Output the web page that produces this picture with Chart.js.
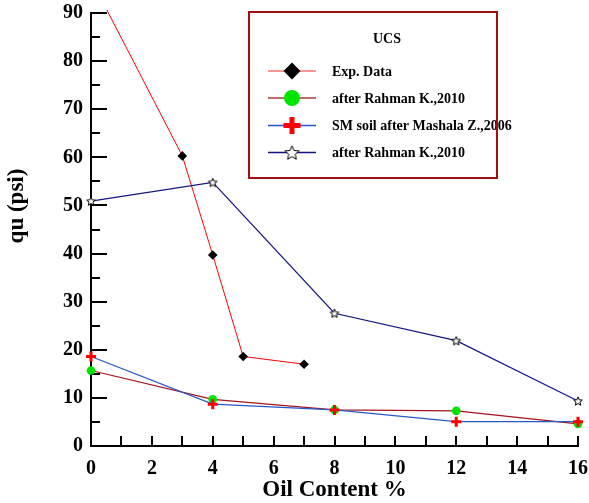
<!DOCTYPE html>
<html>
<head>
<meta charset="utf-8">
<script src="https://cdn.jsdelivr.net/npm/chart.js@4/dist/chart.umd.min.js"></script>
<style>
  html, body { margin: 0; padding: 0; background: #fff; }
  #wrap { width: 589px; height: 503px; position: relative; }
</style>
</head>
<body>
<div id="wrap"><canvas id="c" width="589" height="503"></canvas></div>
<script>
// Oil content (%) on the x axis, unconfined compressive strength qu (psi) on the y axis
const expX = [0, 3, 4, 5, 7];
const expY = [97, 60.3, 39.7, 18.6, 17.0];

const rahmanX = [0, 4, 8, 12, 16];
const rahmanY = [15.7, 9.7, 7.5, 7.3, 4.6];

const mashalaX = [0, 4, 8, 12, 16];
const mashalaY = [18.6, 8.7, 7.5, 5.05, 5.05];

const rahman2X = [0, 4, 8, 12, 16];
const rahman2Y = [50.9, 54.8, 27.6, 21.9, 9.35];

const xTickValues = [0, 2, 4, 6, 8, 10, 12, 14, 16];
const yTickValues = [0, 10, 20, 30, 40, 50, 60, 70, 80, 90];

const seriesNames = ['Exp. Data', 'after Rahman K.,2010', 'SM soil after Mashala Z.,2006', 'after Rahman K.,2010'];
const legendTitle = 'UCS';
const xTitle = 'Oil Content %';
const yTitle = 'qu (psi)';

const SERIF = '"Liberation Serif", "Times New Roman", serif';

function pairs(xs, ys) { return xs.map((x, i) => ({ x: x, y: ys[i] })); }

// five-pointed open star used as a marker
function starCanvas(outer) {
  const s = Math.ceil(outer * 2 + 4);
  const cv = document.createElement('canvas');
  cv.width = s; cv.height = s;
  const g = cv.getContext('2d');
  const cx = s / 2, cy = s / 2 + outer * 0.1;
  const inner = outer * 0.45;
  g.beginPath();
  for (let i = 0; i < 10; i++) {
    const r = i % 2 === 0 ? outer : inner;
    const a = -Math.PI / 2 + i * Math.PI / 5;
    const px = cx + r * Math.cos(a), py = cy + r * Math.sin(a);
    if (i === 0) g.moveTo(px, py); else g.lineTo(px, py);
  }
  g.closePath();
  g.fillStyle = '#fff';
  g.fill();
  g.lineWidth = 1;
  g.strokeStyle = '#000';
  g.stroke();
  return cv;
}
const starSmall = starCanvas(4.6);
const starLarge = starCanvas(7.5);

const datasets = [
  {
    label: seriesNames[0], data: pairs(expX, expY),
    borderColor: '#ff0000', borderWidth: 1,
    pointStyle: 'rectRot', pointRadius: 4.8,
    pointBackgroundColor: '#000', pointBorderColor: '#000', pointBorderWidth: 0,
    order: 3, clip: { left: 10, top: 3, right: 10, bottom: 10 },
    legendRadius: 8.5, legendStyle: 'rectRot', legendLine: '#ff7373'
  },
  {
    label: seriesNames[1], data: pairs(rahmanX, rahmanY),
    borderColor: '#a3141c', borderWidth: 1.2,
    pointStyle: 'circle', pointRadius: 4.3,
    pointBackgroundColor: '#00e400', pointBorderColor: '#00e400', pointBorderWidth: 0,
    order: 2, clip: false,
    legendRadius: 8, legendStyle: 'circle', legendLine: '#a83a3a'
  },
  {
    label: seriesNames[2], data: pairs(mashalaX, mashalaY),
    borderColor: '#2458c8', borderWidth: 1.2,
    pointStyle: 'cross', pointRadius: 5, pointBorderWidth: 3,
    pointBackgroundColor: '#ff0000', pointBorderColor: '#ff0000',
    order: 1, clip: false,
    legendRadius: 8.5, legendStyle: 'cross', legendBorder: 5, legendLine: '#2458c8'
  },
  {
    label: seriesNames[3], data: pairs(rahman2X, rahman2Y),
    borderColor: '#14147e', borderWidth: 1.2,
    pointStyle: starSmall, pointRadius: 5,
    pointBackgroundColor: '#fff', pointBorderColor: '#000',
    order: 0, clip: false,
    legendStyle: starLarge, legendRadius: 8, legendLine: '#14147e'
  }
];

// inward tick marks on both axes
const innerTicks = {
  id: 'innerTicks',
  beforeDatasetsDraw(chart) {
    const ctx = chart.ctx, xs = chart.scales.x, ys = chart.scales.y;
    const a = chart.chartArea;
    ctx.save();
    ctx.strokeStyle = '#000';
    ctx.lineWidth = 2;
    ctx.beginPath();
    for (let v = xs.min + 1; v <= xs.max; v += 1) {
      const px = Math.round(xs.getPixelForValue(v));
      ctx.moveTo(px, a.bottom); ctx.lineTo(px, a.bottom - 10);
    }
    for (let v = ys.min + 5; v <= ys.max; v += 5) {
      const py = Math.round(ys.getPixelForValue(v));
      const len = v % 10 === 0 ? 16 : 9;
      ctx.moveTo(a.left, py); ctx.lineTo(a.left + len, py);
    }
    ctx.stroke();
    ctx.restore();
  }
};

// axis titles
const axisTitles = {
  id: 'axisTitles',
  afterDraw(chart) {
    const ctx = chart.ctx, a = chart.chartArea;
    ctx.save();
    ctx.fillStyle = '#000';
    ctx.font = 'bold 23px ' + SERIF;
    ctx.textAlign = 'center';
    ctx.textBaseline = 'middle';
    ctx.fillText(xTitle, (a.left + a.right) / 2, 490);
    ctx.translate(17, 206);
    ctx.rotate(-Math.PI / 2);
    ctx.fillText(yTitle, 0, 0);
    ctx.restore();
  }
};

// boxed legend inside the plot
const boxLegend = {
  id: 'boxLegend',
  afterDraw(chart) {
    const ctx = chart.ctx;
    const bx = 249, by = 12, bw = 248, bh = 166;
    ctx.save();
    ctx.fillStyle = '#fff';
    ctx.fillRect(bx, by, bw, bh);
    ctx.fillStyle = '#000';
    ctx.font = 'bold 14px ' + SERIF;
    ctx.textAlign = 'center';
    ctx.textBaseline = 'middle';
    ctx.fillText(legendTitle, 387, 39);
    const rows = [71, 98, 125.5, 152.5];
    datasets.forEach((ds, i) => {
      const y = rows[i];
      ctx.strokeStyle = ds.legendLine;
      ctx.lineWidth = 1.5;
      ctx.beginPath();
      ctx.moveTo(268, y); ctx.lineTo(316, y);
      ctx.stroke();
      ctx.fillStyle = ds.pointBackgroundColor;
      ctx.strokeStyle = ds.pointBorderColor;
      ctx.lineWidth = ds.legendBorder || 0.01;
      Chart.helpers.drawPoint(ctx, {
        pointStyle: ds.legendStyle, radius: ds.legendRadius, rotation: 0,
        borderWidth: ds.legendBorder || 0
      }, 292, y);
      ctx.fillStyle = '#000';
      ctx.textAlign = 'left';
      ctx.font = 'bold 14px ' + SERIF;
      ctx.fillText(ds.label, 332, y + 1);
    });
    ctx.strokeStyle = '#a01010';
    ctx.lineWidth = 2;
    ctx.strokeRect(bx, by, bw, bh);
    ctx.restore();
  }
};

new Chart(document.getElementById('c'), {
  type: 'line',
  data: { datasets: datasets },
  plugins: [innerTicks, axisTitles, boxLegend],
  options: {
    responsive: false,
    animation: false,
    devicePixelRatio: 1,
    layout: { padding: { top: 13, right: 11, left: 0, bottom: 0 } },
    plugins: { legend: { display: false }, tooltip: { enabled: false } },
    elements: { line: { tension: 0, fill: false } },
    scales: {
      x: {
        type: 'linear', min: 0, max: 16,
        afterBuildTicks(scale) { scale.ticks = xTickValues.map(v => ({ value: v })); },
        afterFit(scale) { scale.height = 57; scale.paddingLeft = 0; scale.paddingRight = 0; },
        grid: { display: false },
        border: { display: true, color: '#000', width: 2 },
        ticks: { color: '#000', padding: 3, maxRotation: 0, autoSkip: false,
                 font: { family: SERIF, size: 20, weight: 'bold' } }
      },
      y: {
        type: 'linear', min: 0, max: 90,
        afterBuildTicks(scale) { scale.ticks = yTickValues.map(v => ({ value: v })); },
        afterFit(scale) { scale.width = 91; scale.paddingTop = 0; scale.paddingBottom = 0; },
        grid: { display: false },
        border: { display: true, color: '#000', width: 2 },
        ticks: { color: '#000', padding: 0, autoSkip: false,
                 font: { family: SERIF, size: 20, weight: 'bold' } }
      }
    }
  }
});
</script>
</body>
</html>
